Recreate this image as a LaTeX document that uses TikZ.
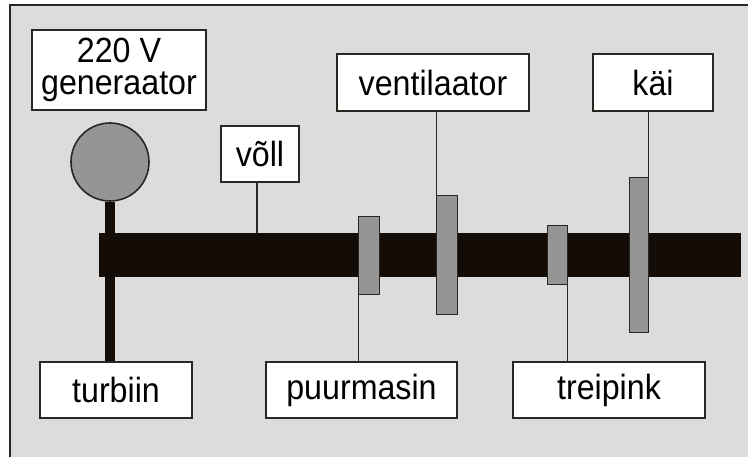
\documentclass[tikz,border=0pt]{standalone}
\usepackage{fontspec}
\setmainfont[FakeStretch=0.92]{Liberation Sans}
\definecolor{bg}{HTML}{DCDCDC}
\definecolor{shaftc}{HTML}{140C06}
\definecolor{plate}{HTML}{959595}
\definecolor{edge}{HTML}{2A2622}
\begin{document}
\begin{tikzpicture}[x=1pt,y=-1pt,
  label box/.style={draw=edge,line width=1.6pt,fill=white,inner sep=0pt,
    font=\fontsize{35}{32}\selectfont,align=center,minimum height=56pt},
  plate box/.style={draw=edge,line width=1.4pt,fill=plate,inner sep=0pt,rectangle},
  lead/.style={draw=edge,line width=1.2pt}]
\useasboundingbox (0,0) rectangle (748,457);
\fill[bg] (10,5) rectangle (748,457);
\draw[edge,line width=2pt] (10,457) -- (10,5) -- (748,5);
% labels
\node[label box,minimum width=174pt,minimum height=80pt] (gen) at (119,70) {220 V\\generaator};
\node[label box,minimum width=152pt] (turb) at (116,390) {turbiin};
\node[label box,minimum width=191pt] (puur) at (361.5,390) {puurmasin};
\node[label box,minimum width=192pt] (trei) at (609,390) {treipink};
\node[label box,minimum width=78pt] (voll) at (260,154) {võll};
\node[label box,minimum width=192pt,minimum height=57pt] (vent) at (433,82.5) {ventilaator};
\node[label box,minimum width=120pt,minimum height=57pt] (kai) at (653,82.5) {käi};
% generator and stem
\node[circle,draw=edge,line width=1.6pt,fill=plate,minimum size=78pt,inner sep=0pt] (gencirc) at (110,162) {};
\draw[shaftc,line width=10pt] (gencirc.south) -- (gencirc.south |- turb.north);
% shaft
\node[fill=shaftc,inner sep=0pt,minimum width=642pt,minimum height=44pt] (shaft) at (420,255) {};
% plates
\node[plate box,minimum width=21pt,minimum height=78pt] (puurp) at (369,255.5) {};
\node[plate box,minimum width=21pt,minimum height=119pt] (ventp) at (447,255) {};
\node[plate box,minimum width=20pt,minimum height=59pt] (treip) at (557.5,255) {};
\node[plate box,minimum width=19pt,minimum height=155pt] (kaip) at (639,255) {};
% leads
\draw[lead] ([xshift=-3pt]voll.south) -- ([xshift=-3pt]voll.south |- shaft.north);
\draw[lead] ([xshift=1pt]ventp.north west) -- ([xshift=1pt]ventp.north west |- vent.south);
\draw[lead] ([xshift=-1pt]kaip.north east) -- ([xshift=-1pt]kaip.north east |- kai.south);
\draw[lead] ([xshift=1pt]puurp.south west) -- ([xshift=1pt]puurp.south west |- puur.north);
\draw[lead] ([xshift=-1pt]treip.south east) -- ([xshift=-1pt]treip.south east |- trei.north);
\end{tikzpicture}
\end{document}
